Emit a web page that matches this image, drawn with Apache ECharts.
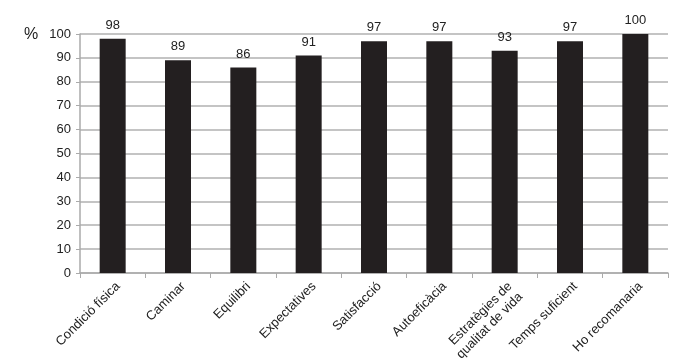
<!DOCTYPE html>
<html><head><meta charset="utf-8">
<script src="https://cdn.jsdelivr.net/npm/echarts@6/dist/echarts.min.js"></script>
<style>html,body{margin:0;padding:0;background:#fff}#c{width:700px;height:358px}</style>
</head><body><div id="c"></div>
<script>
const categories = ["Condició física","Caminar","Equilibri","Expectatives","Satisfacció","Autoeficàcia","Estratègies de\nqualitat de vida","Temps suficient","Ho recomanaria"];
const values = [98,89,86,91,97,97,93,97,100];
const yTicks = [0,10,20,30,40,50,60,70,80,90,100];
const font = "'Liberation Sans', Arial, Helvetica, sans-serif";
const chart = echarts.init(document.getElementById('c'));
chart.setOption({
  animation:false,
  grid:{left:80,right:32,top:34,bottom:85,containLabel:false,outerBoundsMode:'none'},
  graphic:[{type:'text',left:24,top:27,style:{text:'%',fontSize:16,fontFamily:font,fill:'#222'}}],
  xAxis:{type:'category',data:categories,
    axisLine:{lineStyle:{color:'#aaa',width:1.5}},
    axisTick:{show:true,length:5,lineStyle:{color:'#aaa'}},
    axisLabel:{rotate:45,fontSize:13,fontFamily:font,color:'#222',margin:6,interval:0,lineHeight:15,verticalAlign:'top'}},
  yAxis:{type:'value',min:yTicks[0],max:yTicks[yTicks.length-1],interval:10,
    axisLine:{show:true,lineStyle:{color:'#aaa',width:1.5}},
    axisTick:{show:true,length:4,lineStyle:{color:'#aaa'}},
    splitLine:{lineStyle:{color:'#b0b0b0',width:1.5}},
    axisLabel:{fontSize:13,fontFamily:font,color:'#222',margin:9}},
  series:[{type:'bar',data:values,barWidth:26,itemStyle:{color:'#231f20'},
    label:{show:true,position:'top',distance:7,fontSize:13,fontFamily:font,color:'#222'}}]
});
</script></body></html>
